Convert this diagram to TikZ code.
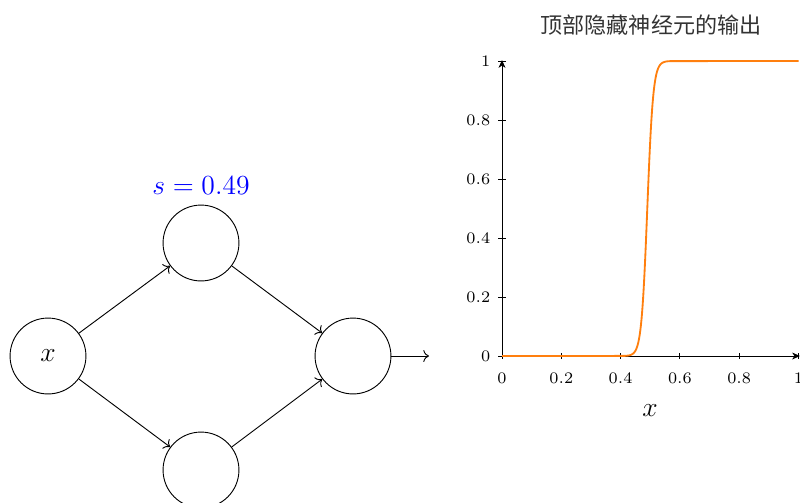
\documentclass[tikz,border=0pt]{standalone}
\usepackage{fontspec}
\usetikzlibrary{arrows.meta}
\newfontfamily\cjkfont{Noto Sans CJK SC}
\begin{document}
\begin{tikzpicture}[x=0.43478pt,y=-0.43478pt,
  neuron/.style={circle,draw,minimum size=33pt,inner sep=0pt,font=\large},
  link/.style={->},
  axisline/.style={-{Stealth[length=3.4pt,width=3pt,inset=1pt]}},
  ticklab/.style={font=\scriptsize,inner sep=2.3pt},
  curve/.style={color={rgb,255:red,255;green,127;blue,14},thick}]
\useasboundingbox (0,0) rectangle (800,502);
\clip (0,0) rectangle (800,502);
% network
\node[neuron] (in) at (48,356) {$x$};
\node[neuron] (h1) at (201,243) {};
\node[neuron] (h2) at (201,470) {};
\node[neuron] (out) at (353,356) {};
\coordinate (end) at (429,356);
\node[blue,font=\large] (slab) at (201,186) {$s=0.49$};
\draw[link] (in) -- (h1);
\draw[link] (in) -- (h2);
\draw[link] (h1) -- (out);
\draw[link] (h2) -- (out);
\draw[link] (out) -- (end);
% plot
\node[font=\cjkfont\fontsize{9.6}{11}\selectfont,text=black!80] (title) at (651,25) {顶部隐藏神经元的输出};
\coordinate (o) at (502,356);
\coordinate (xe) at (800,356);
\coordinate (ye) at (502,60);
\draw[axisline] (o) -- (xe);
\draw[axisline] (o) -- (ye);
\foreach \t/\n in {0/0,0.2/1,0.4/2,0.6/3,0.8/4,1/5}{
  \draw ({502+296.5*\t},353) -- ({502+296.5*\t},359);
  \node[ticklab] (xt\n) at ({502+296.5*\t},378) {$\t$};
}
\foreach \t/\n in {0/0,0.2/1,0.4/2,0.6/3,0.8/4,1/5}{
  \draw (498,{356-295*\t}) -- (506,{356-295*\t});
  \node[ticklab,anchor=east] (yt\n) at (496,{356-295*\t}) {$\t$};
}
\node[font=\large] (xlab) at (650,411) {$x$};
\draw[curve] (o) -- plot[domain=0.41:0.57,samples=120,smooth]
  ({502+296.5*\x},{356-295/(1+exp(-100*(\x-0.49)))}) -- (798.5,61);
\end{tikzpicture}
\end{document}
